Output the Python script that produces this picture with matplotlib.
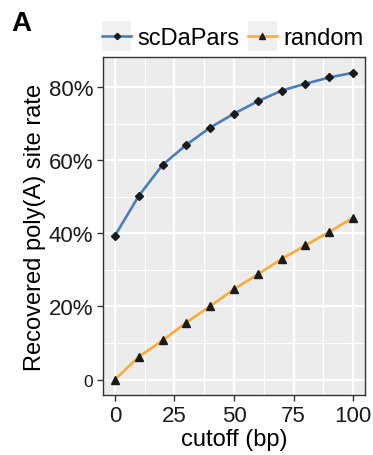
import matplotlib
matplotlib.use("Agg")
import matplotlib.pyplot as plt
from matplotlib.lines import Line2D
from matplotlib.patches import Rectangle
from matplotlib.legend_handler import HandlerLine2D

plt.rcParams['font.family'] = ['Liberation Sans', 'DejaVu Sans']

# data
cutoff = [0, 10, 20, 30, 40, 50, 60, 70, 80, 90, 100]
scdapars = [39.3, 50.2, 58.7, 64.2, 68.9, 72.7, 76.1, 79.0, 80.9, 82.6, 83.9]
random_rate = [0.0, 6.2, 10.7, 15.6, 20.1, 24.7, 28.8, 33.0, 36.7, 40.4, 44.3]
series_names = ['scDaPars', 'random']
y_ticks = [0, 20, 40, 60, 80]
y_labels = ['0', '20%', '40%', '60%', '80%']
x_ticks = [0, 25, 50, 75, 100]

blue = '#4A7EBB'
orange = '#FBAB36'


class KeyHandler(HandlerLine2D):
    # ggplot-like legend key with a grey box behind the line
    def create_artists(self, legend, orig_handle, xdescent, ydescent,
                       width, height, fontsize, trans):
        box = Rectangle((-xdescent, -ydescent - 5), width, height + 10,
                        facecolor='#F0F0F0', edgecolor='none', transform=trans)
        arts = super().create_artists(legend, orig_handle, xdescent, ydescent,
                                      width, height, fontsize, trans)
        return [box] + list(arts)


fig = plt.figure(figsize=(3.73, 4.56), dpi=100)
ax = fig.add_axes([0.276, 0.1316, 0.7026, 0.7412])

ax.set_facecolor('#EBECEB')
ax.plot(cutoff, scdapars, color=blue, lw=1.9, zorder=3)
ax.plot(cutoff, scdapars, ls='none', marker='D', ms=4.2, color='#1a1a1a', zorder=4)
ax.plot(cutoff, random_rate, color=orange, lw=1.9, zorder=3)
ax.plot(cutoff, random_rate, ls='none', marker='^', ms=5.2, color='#1a1a1a', zorder=4)

ax.set_xlim(-5, 105)
ax.set_ylim(-4.2, 88.2)
ax.set_xticks(x_ticks)
ax.set_xticks([12.5, 37.5, 62.5, 87.5], minor=True)
ax.set_yticks(y_ticks)
ax.set_yticklabels(y_labels)
ax.set_yticks([10, 30, 50, 70], minor=True)
ax.grid(which='major', color='white', lw=1.6)
ax.grid(which='minor', color='white', lw=0.8)
ax.set_axisbelow(True)

for s in ax.spines.values():
    s.set_color('#333333')
    s.set_linewidth(1.0)
ax.tick_params(which='major', length=4, width=1.0, color='#333333',
               labelsize=16, labelcolor='#1a1a1a', pad=3)
ax.tick_params(which='minor', length=0)
ax.get_yticklabels()[0].set_fontsize(12.5)

ax.set_xlabel('cutoff (bp)', fontsize=17, labelpad=2)
ax.set_ylabel('Recovered poly(A) site rate', fontsize=17, labelpad=2)

handles = [
    Line2D([], [], color=blue, lw=1.9, marker='D', ms=3.2, mfc='#1a1a1a', mec='#1a1a1a'),
    Line2D([], [], color=orange, lw=1.9, marker='^', ms=3.8, mfc='#1a1a1a', mec='#1a1a1a'),
]
fig.legend(handles, series_names, loc='center', bbox_to_anchor=(0.625, 0.914),
           ncol=2, frameon=False, fontsize=17, handlelength=1.2,
           handleheight=0.7, handletextpad=0.3, columnspacing=0.35,
           handler_map={Line2D: KeyHandler()})

fig.text(0.03, 0.975, 'A', fontsize=20, fontweight='bold', va='top', ha='left')

fig.savefig('out.png', dpi=100)
